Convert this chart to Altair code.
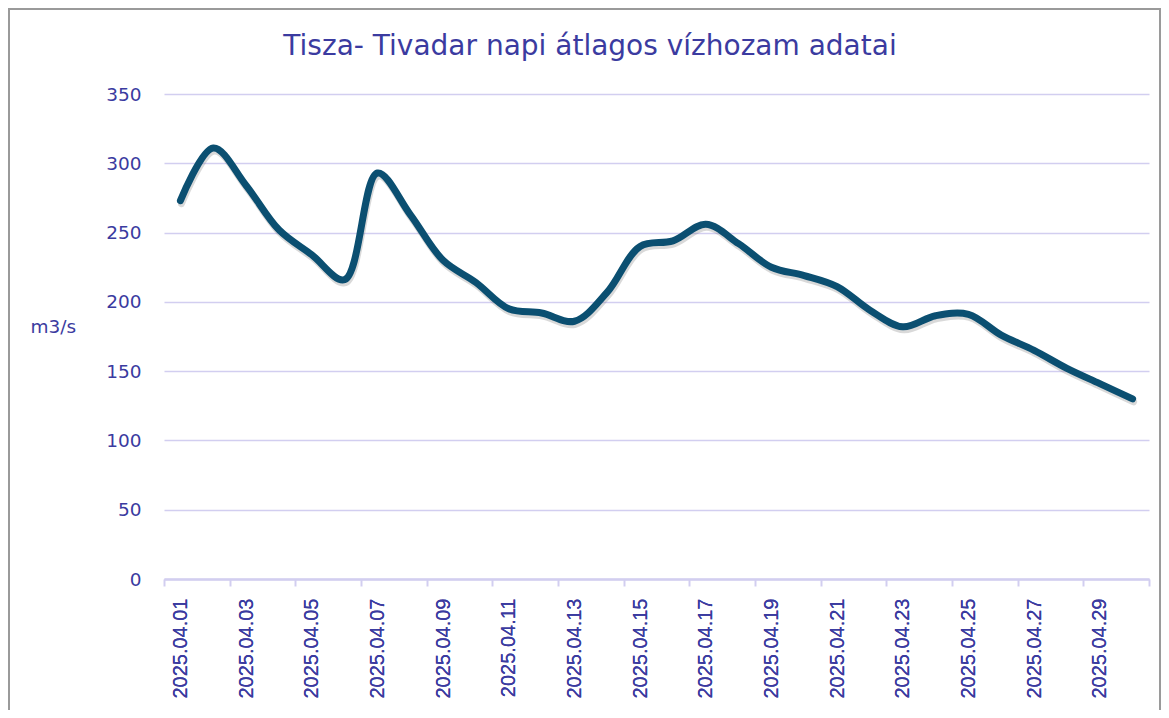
import altair as alt
import pandas as pd

# --- data ---
dates = [
    "2025.04.01", "2025.04.02", "2025.04.03", "2025.04.04", "2025.04.05",
    "2025.04.06", "2025.04.07", "2025.04.08", "2025.04.09", "2025.04.10",
    "2025.04.11", "2025.04.12", "2025.04.13", "2025.04.14", "2025.04.15",
    "2025.04.16", "2025.04.17", "2025.04.18", "2025.04.19", "2025.04.20",
    "2025.04.21", "2025.04.22", "2025.04.23", "2025.04.24", "2025.04.25",
    "2025.04.26", "2025.04.27", "2025.04.28", "2025.04.29", "2025.04.30",
]
flow = [
    273, 311, 284, 252, 234, 216, 293, 263, 230, 214,
    195, 192, 186, 207, 240, 244, 256, 242, 225, 219,
    211, 194, 182, 190, 191, 176, 165, 152, 141, 130,
]
label_dates = dates[0::2]          # every other label shown
y_ticks = [0, 50, 100, 150, 200, 250, 300, 350]
tick_positions = list(range(0, 31, 2))   # category boundaries with tick marks
title_text = ["Tisza- Tivadar napi átlagos vízhozam adatai"]

TEXT = "#3b3ba0"
GRID = "#d2cef0"
LINE = "#0b4f71"

df = pd.DataFrame({"date": dates, "flow": flow, "pos": [i + 0.5 for i in range(len(dates))]})

W, H = 985, 485

x_enc = alt.X(
    "date:N",
    sort=dates,
    scale=alt.Scale(paddingInner=0, paddingOuter=0),
    title=None,
    axis=alt.Axis(
        orient="bottom",
        values=label_dates,
        labelAngle=-90,
        labelFont="Liberation Sans",
        labelFontSize=20,
        labelColor=TEXT,
        labelPadding=19,
        ticks=False,
        domainColor=GRID,
        domainWidth=2,
        grid=False,
        labelOverlap=False,
    ),
)
y_enc = alt.Y(
    "flow:Q",
    scale=alt.Scale(domain=[0, 350], nice=False),
    title="m3/s",
    axis=alt.Axis(
        values=y_ticks,
        domain=False,
        ticks=False,
        labelFont="DejaVu Sans",
        labelFontSize=18.5,
        labelColor=TEXT,
        labelPadding=23,
        gridColor=GRID,
        gridWidth=1.5,
        titleAngle=0,
        titleFont="DejaVu Sans",
        titleFontSize=18.5,
        titleFontWeight="normal",
        titleColor=TEXT,
        titleAlign="left",
        titleBaseline="middle",
        titleX=-134,
        titleY=232,
    ),
)

shadow = alt.Chart(df).mark_line(
    color="#666666", opacity=0.25, strokeWidth=7, interpolate="catmull-rom",
    xOffset=1, yOffset=3, strokeCap="round", strokeJoin="round",
).encode(x=x_enc, y=y_enc)

line = alt.Chart(df).mark_line(
    color=LINE, strokeWidth=7, interpolate="catmull-rom",
    strokeCap="round", strokeJoin="round",
).encode(x=x_enc, y=y_enc)

ticks_layer = alt.Chart(df).mark_point(opacity=0).encode(
    x=alt.X(
        "pos:Q",
        scale=alt.Scale(domain=[0, 30], nice=False, zero=True),
        title=None,
        axis=alt.Axis(
            orient="bottom",
            values=tick_positions,
            labels=False,
            domain=False,
            grid=False,
            ticks=True,
            tickColor=GRID,
            tickWidth=2,
            tickSize=7,
        ),
    ),
)

border = alt.Chart(pd.DataFrame({"k": [0]})).mark_rect(
    fill=None, stroke="#9a9a9a", strokeWidth=2
).encode(
    x=alt.value(-155), x2=alt.value(W + 11),
    y=alt.value(-85), y2=alt.value(H + 200),
)

title = alt.Chart(pd.DataFrame({"t": title_text})).mark_text(
    font="DejaVu Sans", fontSize=28, color=TEXT, align="center", baseline="alphabetic",
).encode(text="t:N", x=alt.value(426), y=alt.value(-39))

chart = (
    alt.layer(border, shadow, line, ticks_layer, title)
    .resolve_scale(x="independent")
    .resolve_axis(x="independent")
    .properties(
        width=W,
        height=H,
        autosize=alt.AutoSizeParams(type="none"),
        padding={"left": 156, "top": 86, "right": 12, "bottom": 131},
        view=alt.ViewBackground(strokeWidth=0, stroke="transparent"),
    )
    .configure_view(stroke="transparent", strokeWidth=0)
    .configure_axis(grid=False)
    .configure_axisY(grid=True)
    .configure(background="white")
)

chart.save("out.html", embed_options={"renderer": "svg", "actions": False})
